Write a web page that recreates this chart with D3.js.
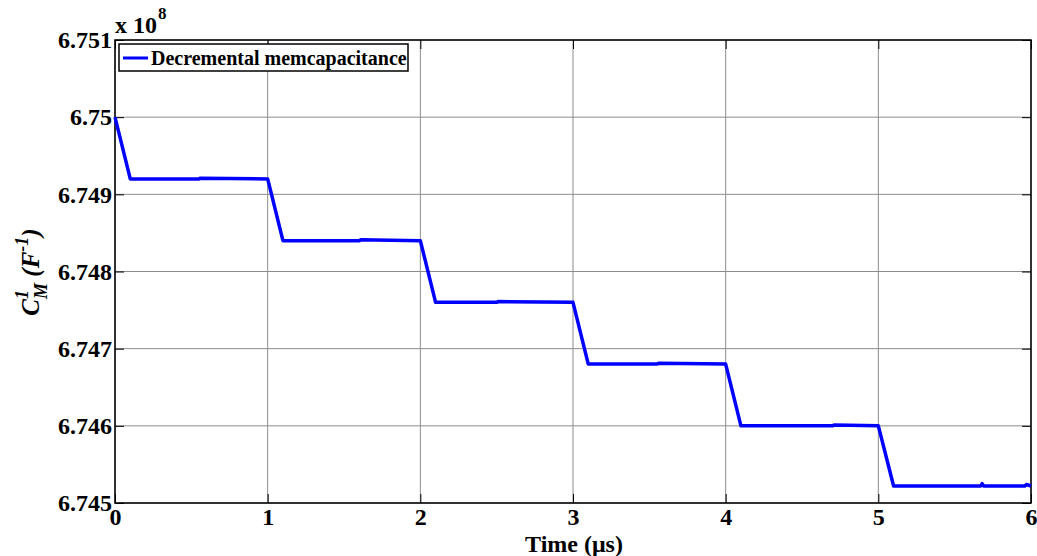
<!DOCTYPE html>
<html>
<head>
<meta charset="utf-8">
<script src="https://cdn.jsdelivr.net/npm/d3@7"></script>
<style>
  html, body { margin: 0; padding: 0; background: #fff; }
  svg { display: block; }
  text { font-family: "Liberation Serif", "Times New Roman", serif; font-weight: bold; fill: #000; }
</style>
</head>
<body>
<svg id="chart" width="1037" height="556"></svg>
<script>
// ---- data (time in µs, value in units of 1e8 F^-1) ----
const timeUs = [0, 0.1, 0.55, 0.56, 1.0, 1.1, 1.6, 1.61, 2.0, 2.1, 2.5, 2.51, 3.0, 3.1, 3.55, 3.56, 4.0, 4.1, 4.7, 4.71, 5.0, 5.1, 5.67, 5.68, 5.69, 5.96, 5.97, 6.0];
const values = [6.7500, 6.74920, 6.74920, 6.74921, 6.74920, 6.74840, 6.74840, 6.74841, 6.74840, 6.74760, 6.74760, 6.74761, 6.74760, 6.74680, 6.74680, 6.74681, 6.74680, 6.74600, 6.74600, 6.74601, 6.74600, 6.74522, 6.74522, 6.74525, 6.74522, 6.74522, 6.74524, 6.74522];
const xTicks = [0, 1, 2, 3, 4, 5, 6];
const yTicks = [6.745, 6.746, 6.747, 6.748, 6.749, 6.750, 6.751];
const yTickLabels = ["6.745", "6.746", "6.747", "6.748", "6.749", "6.75", "6.751"];
const seriesName = "Decremental memcapacitance";
const xLabel = "Time (\u03bcs)";

const svg = d3.select("#chart");
const L = 115, R = 1031, T = 40, B = 503;

const x = d3.scaleLinear().domain([0, 6]).range([L, R]);
const y = d3.scaleLinear().domain([6.745, 6.751]).range([B, T]);

// gridlines
const grid = svg.append("g");
grid.selectAll("line.v").data(xTicks).enter().append("line")
  .attr("x1", d => x(d)).attr("x2", d => x(d)).attr("y1", T).attr("y2", B)
  .attr("stroke", "#8c8c8c").attr("stroke-width", 1);
grid.selectAll("line.h").data(yTicks).enter().append("line")
  .attr("y1", d => y(d)).attr("y2", d => y(d)).attr("x1", L).attr("x2", R)
  .attr("stroke", "#8c8c8c").attr("stroke-width", 1);

// axes (ticks inward, labels)
const fmt = d => yTickLabels[yTicks.indexOf(d)];
const ax = svg.append("g");
const yAxis = ax.append("g").attr("transform", `translate(${L},0)`)
  .call(d3.axisLeft(y).tickValues(yTicks).tickFormat(fmt).tickSizeInner(-9).tickSizeOuter(0).tickPadding(3));
ax.append("g").attr("transform", `translate(${R},0)`)
  .call(d3.axisRight(y).tickValues(yTicks).tickFormat("").tickSizeInner(-9).tickSizeOuter(0));
const xAxis = ax.append("g").attr("transform", `translate(0,${B})`)
  .call(d3.axisBottom(x).tickValues(xTicks).tickFormat(d3.format("d")).tickSizeInner(-9).tickSizeOuter(0).tickPadding(5));
ax.append("g").attr("transform", `translate(0,${T})`)
  .call(d3.axisTop(x).tickValues(xTicks).tickFormat("").tickSizeInner(-9).tickSizeOuter(0));
ax.selectAll(".domain").remove();
ax.selectAll(".tick line").attr("stroke", "#000").attr("stroke-width", 1);
yAxis.selectAll("text").style("font-size", "24px").attr("dy", "0.32em");
xAxis.selectAll("text").style("font-size", "24px").attr("dy", "0.71em");

// frame
svg.append("rect").attr("x", L).attr("y", T).attr("width", R - L).attr("height", B - T)
  .attr("fill", "none").attr("stroke", "#000").attr("stroke-width", 1.5);

// series line
const line = d3.line().x((d, i) => x(timeUs[i])).y(d => y(d));
svg.append("path").datum(values).attr("d", line)
  .attr("fill", "none").attr("stroke", "#0000ff").attr("stroke-width", 3.5).attr("stroke-linejoin", "round");

// exponent label
const ex = svg.append("text").attr("x", L).attr("y", 33).style("font-size", "24px");
ex.append("tspan").text("x 10");
ex.append("tspan").attr("dx", 1).attr("dy", -14).style("font-size", "17px").text("8");

// axis labels
svg.append("text").attr("x", (L + R) / 2 + 1).attr("y", 552).attr("text-anchor", "middle")
  .style("font-size", "24px").text(xLabel);

const yl = svg.append("text").attr("transform", `translate(39,${272}) rotate(-90)`)
  .attr("text-anchor", "middle").style("font-size", "25px").style("font-style", "italic");
yl.append("tspan").text("C");
yl.append("tspan").attr("dy", -11).style("font-size", "18px").text("1");
yl.append("tspan").attr("dx", -9).attr("dy", 19).style("font-size", "18px").text("M");
yl.append("tspan").attr("dy", -8).text(" (F");
yl.append("tspan").attr("dy", -11).style("font-size", "18px").text("-1");
yl.append("tspan").attr("dy", 11).text(")");

// legend
const lg = svg.append("g");
lg.append("rect").attr("x", 119).attr("y", 44).attr("width", 289).attr("height", 27)
  .attr("fill", "#fff").attr("stroke", "#000").attr("stroke-width", 1.5);
lg.append("line").attr("x1", 123).attr("x2", 148).attr("y1", 58).attr("y2", 58)
  .attr("stroke", "#0000ff").attr("stroke-width", 3);
lg.append("text").attr("x", 151).attr("y", 65).style("font-size", "20px").text(seriesName);
</script>
</body>
</html>
